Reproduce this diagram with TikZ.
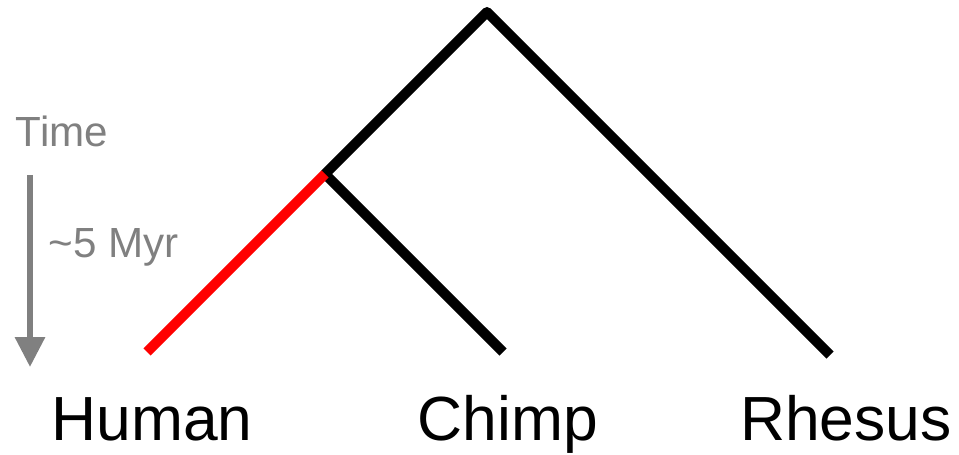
\documentclass[tikz,border=0pt]{standalone}
\usepackage{fontspec}
\setmainfont{Liberation Sans}
\usetikzlibrary{arrows.meta, positioning}

\begin{document}
\begin{tikzpicture}[
    x=0.02cm, y=-0.02cm,
    branch/.style={line width=0.2cm, line join=round},
    taxon/.style={anchor=base, inner sep=0pt, font=\fontsize{35.5}{40}\selectfont},
    timetext/.style={anchor=base, inner sep=0pt, text=gray, font=\fontsize{24}{28}\selectfont},
    timearrow/.style={-{Triangle[length=17pt, width=16.5pt]}, draw=gray, line width=3.4pt}
]
\useasboundingbox (0,0) rectangle (959,455);

% Tree nodes
\coordinate (root) at (487,12);
\coordinate (hc) at (325,174);
\coordinate (human) at (147,352);
\coordinate (chimp) at (503,352);
\coordinate (rhesus) at (830,355);

% Branches
\draw[branch] (rhesus) -- (root) -- (hc) -- (chimp);
\draw[branch, red] (hc) -- (human);

% Leaf labels
\node[taxon] (humanlbl) at (152,440) {Human};
\node[taxon] (chimplbl) at (508,440) {Chimp};
\node[taxon] (rhesuslbl) at (846,440) {Rhesus};

% Time axis
\coordinate (tstart) at (30,175);
\coordinate (tend) at (30,367);
\draw[timearrow] (tstart) -- (tend);
\node[timetext] (timelbl) at (62,147) {Time};
\node[timetext] (myrlbl) at (114,258) {\textasciitilde 5 Myr};

\end{tikzpicture}
\end{document}
